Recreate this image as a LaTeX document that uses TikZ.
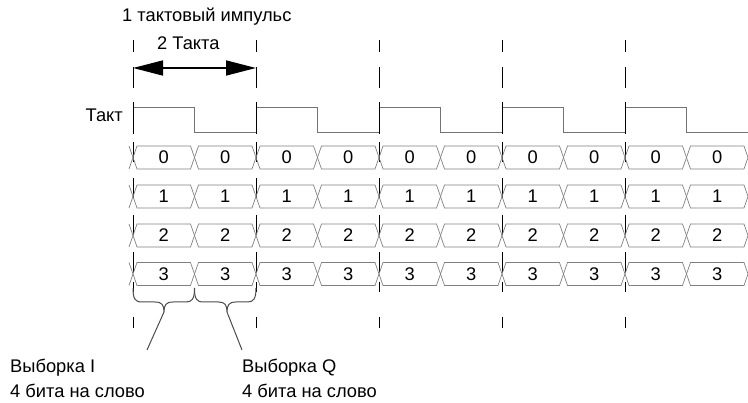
\documentclass[tikz,border=0pt]{standalone}
\usepackage{fontspec}
\setmainfont{Liberation Sans}
\usetikzlibrary{arrows.meta}
\tikzset{
  lbl/.style={font=\fontsize{18.3}{21}\selectfont, inner sep=0pt},
  cellbox/.style={draw=black!50, line width=0.7pt},
  clk/.style={draw=black!55, line width=0.9pt},
  tickmark/.style={draw=black, line width=1pt},
  brace/.style={draw=black!70, line width=1pt},
  dimarrow/.style={draw=black, line width=1.6pt, {Triangle[length=30pt,width=15pt]}-{Triangle[length=30pt,width=15pt]}},
}
\begin{document}
\begin{tikzpicture}[x=1pt,y=-1pt]
\useasboundingbox (0,0) rectangle (748,403);
% titles
\node[lbl, anchor=base west] (t1) at (122,21.5) {1 тактовый импульс};
\node[lbl, anchor=base west] (t2) at (157,49.5) {2 Такта};
\coordinate (aL) at (133,68);
\coordinate (aR) at (256,68);
\draw[dimarrow] (aL) -- (aR);
\node[lbl, anchor=base east] (tk) at (123,121.5) {Такт};
% clock
\draw[clk] (133,132) -- (133,107)
  \foreach \k in {0,...,4} { -- ({133+123*\k},107) -- ({194.5+123*\k},107) -- ({194.5+123*\k},132) -- ({256+123*\k},132) }
  -- (748,132);
% dashed verticals
\foreach \k in {0,...,4} {
  \foreach \a/\b in {40/52, 67/88, 102/134, 142/162, 178/198, 215/235, 252/272, 282/292, 317/328} {
    \draw[tickmark] ({133+123*\k},\a) -- ({133+123*\k},\b);
  }
}
% data rows
\foreach \r/\yc in {0/157.5, 1/196.5, 2/235.5, 3/274} {
  \draw[cellbox] (129,\yc-11.5) -- (133,\yc) -- (129,\yc+11.5);
  \foreach \k in {0,...,9} {
    \pgfmathsetmacro{\xa}{133+61.5*\k}
    \pgfmathsetmacro{\xb}{133+61.5*(\k+1)}
    \draw[cellbox] (\xa,\yc) -- (\xa+4,\yc-11.5) -- (\xb-4,\yc-11.5) -- (\xb,\yc) -- (\xb-4,\yc+11.5) -- (\xa+4,\yc+11.5) -- cycle;
    \node[lbl] (c\r\k) at ({(\xa+\xb)/2},\yc) {\r};
  }
}
% braces
\draw[brace] (133,288) .. controls (133,299) and (135,302) .. (142,302) -- (155,302) .. controls (162,302) and (164,305) .. (164,312)
  .. controls (164,305) and (166,302) .. (173,302) -- (186,302) .. controls (192,302) and (194.5,299) .. (194.5,288);
\draw[brace] (194.5,288) .. controls (194.5,299) and (196.5,302) .. (203.5,302) -- (218.5,302) .. controls (225,302) and (227,305) .. (227,312)
  .. controls (227,305) and (229,302) .. (236,302) -- (247.5,302) .. controls (253.5,302) and (256,299) .. (256,288);
\coordinate (bI) at (164,312);
\coordinate (bQ) at (227,312);
\coordinate (eI) at (147,350);
\coordinate (eQ) at (242,350);
\draw[brace] (bI) -- (eI);
\draw[brace] (bQ) -- (eQ);
% bottom labels
\node[lbl, anchor=base west] (sI) at (10,373) {Выборка I};
\node[lbl, anchor=base west] (wI) at (10,398) {4 бита на слово};
\node[lbl, anchor=base west] (sQ) at (242,373) {Выборка Q};
\node[lbl, anchor=base west] (wQ) at (242,398) {4 бита на слово};
\end{tikzpicture}
\end{document}
